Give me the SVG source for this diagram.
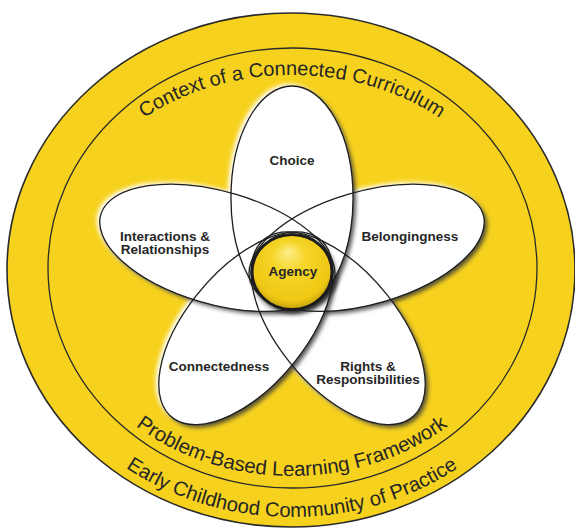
<svg xmlns="http://www.w3.org/2000/svg" width="575" height="530" viewBox="0 0 575 530">
<defs>
<style>
.ring{fill:#F6D21E;stroke:#2a2a2a}
.petal{fill:#ffffff}
.outline{fill:none;stroke:#1e1e1e;stroke-width:1.3}
.lbl{font-family:"Liberation Sans",Arial,sans-serif;font-weight:bold;font-size:13.5px;fill:#262626;text-anchor:middle}
.arc{font-family:"Liberation Sans",Arial,sans-serif;font-size:20px;fill:#262626}
</style>
<filter id="ps" x="-25%" y="-25%" width="150%" height="150%" color-interpolation-filters="sRGB">
<feGaussianBlur in="SourceAlpha" stdDeviation="2" result="b"/>
<feOffset in="b" dx="3" dy="3" result="o1"/>
<feFlood flood-color="#3a3a3a" flood-opacity="0.85"/>
<feComposite in2="o1" operator="in" result="sh"/>
<feOffset in="b" dx="-2.5" dy="-2.5" result="o2"/>
<feFlood flood-color="#ffffff" flood-opacity="1"/>
<feComposite in2="o2" operator="in" result="gl"/>
<feMerge><feMergeNode in="gl"/><feMergeNode in="sh"/><feMergeNode in="SourceGraphic"/></feMerge>
</filter>
<filter id="as" x="-30%" y="-30%" width="160%" height="160%" color-interpolation-filters="sRGB">
<feGaussianBlur in="SourceAlpha" stdDeviation="2.5" result="b"/>
<feOffset in="b" dx="2" dy="3" result="o1"/>
<feFlood flood-color="#222" flood-opacity="0.7"/>
<feComposite in2="o1" operator="in" result="sh"/>
<feMerge><feMergeNode in="sh"/><feMergeNode in="SourceGraphic"/></feMerge>
</filter>
<radialGradient id="ag" cx="50%" cy="45%" r="58%" fx="45%" fy="22%">
<stop offset="0" stop-color="#FCEE8A"/>
<stop offset="0.35" stop-color="#F6D62A"/>
<stop offset="0.82" stop-color="#EEC814"/>
<stop offset="1" stop-color="#B8960A"/>
</radialGradient>
<path id="p-top" d="M57,268 A235,193 0 0 1 527,268"/>
<path id="p-mid" d="M52,268 A240,208 0 0 0 532,268"/>
<path id="p-out" d="M14,268 A278,249 0 0 0 570,268"/>
</defs>
<rect width="575" height="530" fill="#ffffff"/>
<g id="rings">
<ellipse cx="291" cy="270" rx="284" ry="257" class="ring" stroke-width="1.6"/>
<ellipse cx="292.5" cy="268" rx="244.5" ry="220" fill="none" stroke="#2a2a2a" stroke-width="1.3"/>
</g>
<g id="ring-labels">
<text class="arc"><textPath href="#p-top" startOffset="50%" text-anchor="middle">Context of a Connected Curriculum</textPath></text>
<text class="arc" style="font-size:20.4px"><textPath href="#p-mid" startOffset="50%" text-anchor="middle">Problem-Based Learning Framework</textPath></text>
<text class="arc" style="font-size:20.2px"><textPath href="#p-out" startOffset="50%" text-anchor="middle">Early Childhood Community of Practice</textPath></text>
</g>
<g id="petal-fills" transform="translate(292,270) scale(1.09,1)">
<g filter="url(#ps)"><ellipse class="petal" cx="0" cy="-72" rx="56" ry="112" transform="rotate(144)"/></g>
<g filter="url(#ps)"><ellipse class="petal" cx="0" cy="-72" rx="56" ry="112" transform="rotate(72)"/></g>
<g filter="url(#ps)"><ellipse class="petal" cx="0" cy="-72" rx="56" ry="112" transform="rotate(216)"/></g>
<g filter="url(#ps)"><ellipse class="petal" cx="0" cy="-72" rx="56" ry="112" transform="rotate(288)"/></g>
<g filter="url(#ps)"><ellipse class="petal" cx="0" cy="-72" rx="56" ry="112"/></g>
</g>
<g id="node-choice">
<ellipse class="outline" vector-effect="non-scaling-stroke" cx="0" cy="-72" rx="56" ry="112" transform="translate(292,270) scale(1.09,1)"/>
<text class="lbl" x="292" y="165">Choice</text>
</g>
<g id="node-belongingness">
<ellipse class="outline" vector-effect="non-scaling-stroke" cx="0" cy="-72" rx="56" ry="112" transform="translate(292,270) scale(1.09,1) rotate(72)"/>
<text class="lbl" x="410" y="241">Belongingness</text>
</g>
<g id="node-rights">
<ellipse class="outline" vector-effect="non-scaling-stroke" cx="0" cy="-72" rx="56" ry="112" transform="translate(292,270) scale(1.09,1) rotate(144)"/>
<text class="lbl" x="368" y="371">Rights &amp;</text>
<text class="lbl" x="368" y="384">Responsibilities</text>
</g>
<g id="node-connectedness">
<ellipse class="outline" vector-effect="non-scaling-stroke" cx="0" cy="-72" rx="56" ry="112" transform="translate(292,270) scale(1.09,1) rotate(216)"/>
<text class="lbl" x="219" y="371">Connectedness</text>
</g>
<g id="node-interactions">
<ellipse class="outline" vector-effect="non-scaling-stroke" cx="0" cy="-72" rx="56" ry="112" transform="translate(292,270) scale(1.09,1) rotate(288)"/>
<text class="lbl" x="165" y="241">Interactions &amp;</text>
<text class="lbl" x="165" y="254">Relationships</text>
</g>
<g id="node-agency">
<ellipse cx="292" cy="272" rx="40" ry="37.5" fill="url(#ag)" stroke="#1c1c1c" stroke-width="3" filter="url(#as)"/>
<text class="lbl" x="293" y="276">Agency</text>
</g>
</svg>
